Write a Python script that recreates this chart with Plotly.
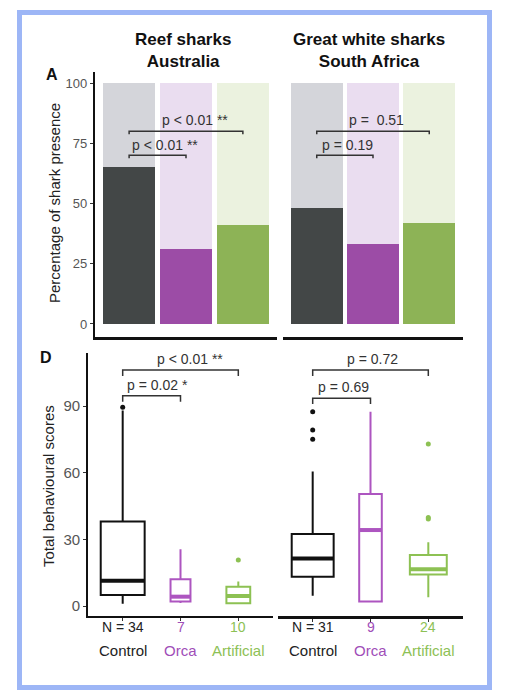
import numpy as np
import plotly.graph_objects as go

# page has an 8px body margin, so the figure is drawn 8px in from the corner
PAGE_W, PAGE_H = 511, 699
OFF = 8
W, H = PAGE_W - 2 * OFF, PAGE_H - 2 * OFF

# ---- data -----------------------------------------------------------------
groups = ["Control", "Orca", "Artificial"]
positions = [1, 2, 3]

# panel A: percentage of shark presence
reef_presence = [65, 31, 41]
gw_presence = [48, 33, 42]

# panel D: total behavioural scores (box stats)
reef_n = [34, 7, 10]
reef_q1 = [5, 2, 1.2]
reef_med = [11.4, 4.2, 4.5]
reef_q3 = [38, 12, 8.7]
reef_lo = [1, 1.3, 1.2]
reef_hi = [88, 25.6, 11]
reef_out = [[89.5], [], [20.7]]

gw_n = [31, 9, 24]
gw_q1 = [13.2, 2, 14.2]
gw_med = [21.4, 34.2, 16.5]
gw_q3 = [32.4, 50.4, 23]
gw_lo = [4.6, 2, 3.9]
gw_hi = [60.5, 87.5, 28.7]
gw_out = [[87.5, 79.2, 75.1], [], [72.9, 39.9, 39.2]]

presence_ticks = [0, 25, 50, 75, 100]
score_ticks = [0, 30, 60, 90]

# significance comparisons: (from, to, label)
reef_sig_a = [(1, 2, "p < 0.01 **"), (1, 3, "p < 0.01 **")]
gw_sig_a = [(1, 2, "p = 0.19"), (1, 3, "p =  0.51")]
reef_sig_d = [(1, 2, "p = 0.02 *"), (1, 3, "p < 0.01 **")]
gw_sig_d = [(1, 2, "p = 0.69"), (1, 3, "p = 0.72")]

# ---- style ----------------------------------------------------------------
DARK = ["#434747", "#9C4CA6", "#8DB356"]
LIGHT = ["#D4D5DA", "#EADDF0", "#EBF2DF"]
BOX = ["#111111", "#AD55C0", "#8DC153"]
TEXT = ["#222222", "#A04DB8", "#8DC155"]
FONT = "Liberation Sans"


def fx(px):
    return (px - OFF) / W


def fy(py):
    return 1 - (py - OFF) / H


fig = go.Figure()

# ---- panel A bars ---------------------------------------------------------
for presence, xa, ya in [(reef_presence, "x", "y"), (gw_presence, "x2", "y2")]:
    absent = [100 - v for v in presence]
    fig.add_trace(go.Bar(x=positions, y=presence, marker_color=DARK, width=0.92,
                         xaxis=xa, yaxis=ya, showlegend=False, marker_line_width=0))
    fig.add_trace(go.Bar(x=positions, y=absent, marker_color=LIGHT, width=0.92,
                         xaxis=xa, yaxis=ya, showlegend=False, marker_line_width=0))


def add_brackets(sig, xa, ya, heights, tip, text_pos):
    for (a, b, label), h, (tx, ty) in zip(sig, heights, text_pos):
        fig.add_trace(go.Scatter(x=[a, a, b, b], y=[h - tip, h, h, h - tip], mode="lines",
                                 line=dict(color="#333333", width=1.5), xaxis=xa, yaxis=ya,
                                 showlegend=False, hoverinfo="skip"))
        fig.add_annotation(x=tx, y=ty, xref=xa, yref=ya, text=label, showarrow=False,
                           font=dict(family=FONT, size=14, color="#333333"),
                           xanchor="center", yanchor="middle")


add_brackets(reef_sig_a, "x", "y", [70, 80], 1.2, [(1.63, 74.5), (2.16, 84.8)])
add_brackets(gw_sig_a, "x2", "y2", [70, 80], 1.2, [(1.54, 74.5), (2.07, 84.8)])

# ---- panel D boxes --------------------------------------------------------
for xa, ya, n, q1, med, q3, lo, hi, out in [
    ("x3", "y3", reef_n, reef_q1, reef_med, reef_q3, reef_lo, reef_hi, reef_out),
    ("x4", "y4", gw_n, gw_q1, gw_med, gw_q3, gw_lo, gw_hi, gw_out),
]:
    for i in range(3):
        w = 0.76 * np.sqrt(n[i] / 34)
        fig.add_trace(go.Box(x=[positions[i]], q1=[q1[i]], median=[med[i]], q3=[q3[i]],
                             lowerfence=[lo[i]], upperfence=[hi[i]], width=w,
                             whiskerwidth=0, fillcolor="rgba(255,255,255,0)",
                             line=dict(color=BOX[i], width=2), xaxis=xa, yaxis=ya,
                             showlegend=False, boxpoints=False))
        fig.add_trace(go.Scatter(x=[positions[i] - w / 2, positions[i] + w / 2], y=[med[i], med[i]],
                                 mode="lines", line=dict(color=BOX[i], width=4), xaxis=xa, yaxis=ya,
                                 showlegend=False, hoverinfo="skip"))
        if out[i]:
            fig.add_trace(go.Scatter(x=[positions[i]] * len(out[i]), y=out[i], mode="markers",
                                     marker=dict(color=BOX[i], size=5), xaxis=xa, yaxis=ya,
                                     showlegend=False))

add_brackets(reef_sig_d, "x3", "y3", [94.6, 106.2], 2.6, [(1.61, 99.7), (2.16, 111.3)])
add_brackets(gw_sig_d, "x4", "y4", [93.5, 106.2], 2.6, [(1.54, 98.5), (2.04, 111.3)])

# x tick labels for panel D
for xa, n in [("x3", reef_n), ("x4", gw_n)]:
    for i in range(3):
        lab = f"N = {n[i]}" if i == 0 else str(n[i])
        fig.add_annotation(x=positions[i], y=fy(627), xref=xa, yref="paper", text=lab,
                           showarrow=False, font=dict(family=FONT, size=14, color=TEXT[i]),
                           xanchor="center", yanchor="middle")
        fig.add_annotation(x=positions[i], y=fy(650), xref=xa, yref="paper", text=groups[i],
                           showarrow=False, font=dict(family=FONT, size=15, color=TEXT[i]),
                           xanchor="center", yanchor="middle")

# ---- axes -----------------------------------------------------------------
xcommon = dict(range=[0.4, 3.6], showgrid=False, zeroline=False, showline=True,
               linecolor="#111111", fixedrange=True)
fig.update_layout(
    xaxis=dict(domain=[fx(95), fx(277)], anchor="y", showticklabels=False, ticks="",
               linewidth=2.5, **xcommon),
    xaxis2=dict(domain=[fx(283), fx(463)], anchor="y2", showticklabels=False, ticks="",
                linewidth=2.5, **xcommon),
    xaxis3=dict(domain=[fx(88), fx(273)], anchor="y3", showticklabels=False, ticks="outside",
                ticklen=3, tickcolor="#333333", tickvals=positions, linewidth=1.8, **xcommon),
    xaxis4=dict(domain=[fx(278), fx(463)], anchor="y4", showticklabels=False, ticks="outside",
                ticklen=3, tickcolor="#333333", tickvals=positions, linewidth=2.8, **xcommon),
    yaxis=dict(domain=[fy(337), fy(72)], anchor="x", range=[-5.4, 104.6], tickvals=presence_ticks,
               ticks="outside", ticklen=3, tickcolor="#333333", showgrid=False, zeroline=False,
               showline=True, linecolor="#111111", linewidth=2.2,
               tickfont=dict(family=FONT, size=13, color="#555555")),
    yaxis2=dict(domain=[fy(337), fy(72)], anchor="x2", range=[-5.4, 104.6], visible=False),
    yaxis3=dict(domain=[fy(616), fy(353)], anchor="x3", range=[-4.5, 113.9], tickvals=score_ticks,
                ticks="outside", ticklen=3, tickcolor="#333333", showgrid=False, zeroline=False,
                showline=True, linecolor="#111111", linewidth=1.8,
                tickfont=dict(family=FONT, size=15, color="#555555")),
    yaxis4=dict(domain=[fy(616), fy(353)], anchor="x4", range=[-4.5, 113.9], visible=False),
    barmode="stack",
    boxmode="overlay",
    width=W,
    height=H,
    margin=dict(l=0, r=0, t=0, b=0),
    paper_bgcolor="white",
    plot_bgcolor="white",
    showlegend=False,
)

# ---- titles and labels ----------------------------------------------------
for text, px, py in [("Reef sharks<br>Australia", 183, 50),
                     ("Great white sharks<br>South Africa", 369, 50)]:
    fig.add_annotation(x=fx(px), y=fy(py), xref="paper", yref="paper", text=f"<b>{text}</b>",
                       showarrow=False, font=dict(family=FONT, size=17, color="#111111"),
                       xanchor="center", yanchor="middle")

for text, px, py in [("A", 52, 75), ("D", 46, 357)]:
    fig.add_annotation(x=fx(px), y=fy(py), xref="paper", yref="paper", text=f"<b>{text}</b>",
                       showarrow=False, font=dict(family=FONT, size=16, color="#111111"),
                       xanchor="center", yanchor="middle")

for text, px, py in [("Percentage of shark presence", 54, 203),
                     ("Total behavioural scores", 48, 486)]:
    fig.add_annotation(x=fx(px), y=fy(py), xref="paper", yref="paper", text=text, textangle=-90,
                       showarrow=False, font=dict(family=FONT, size=15, color="#222222"),
                       xanchor="center", yanchor="middle")

# light blue frame
fig.add_shape(type="rect", xref="paper", yref="paper", x0=fx(19.5), x1=fx(489.5),
              y0=fy(687.5), y1=fy(12.5), line=dict(color="#9DB6F6", width=5))

fig.write_html("out.html")
